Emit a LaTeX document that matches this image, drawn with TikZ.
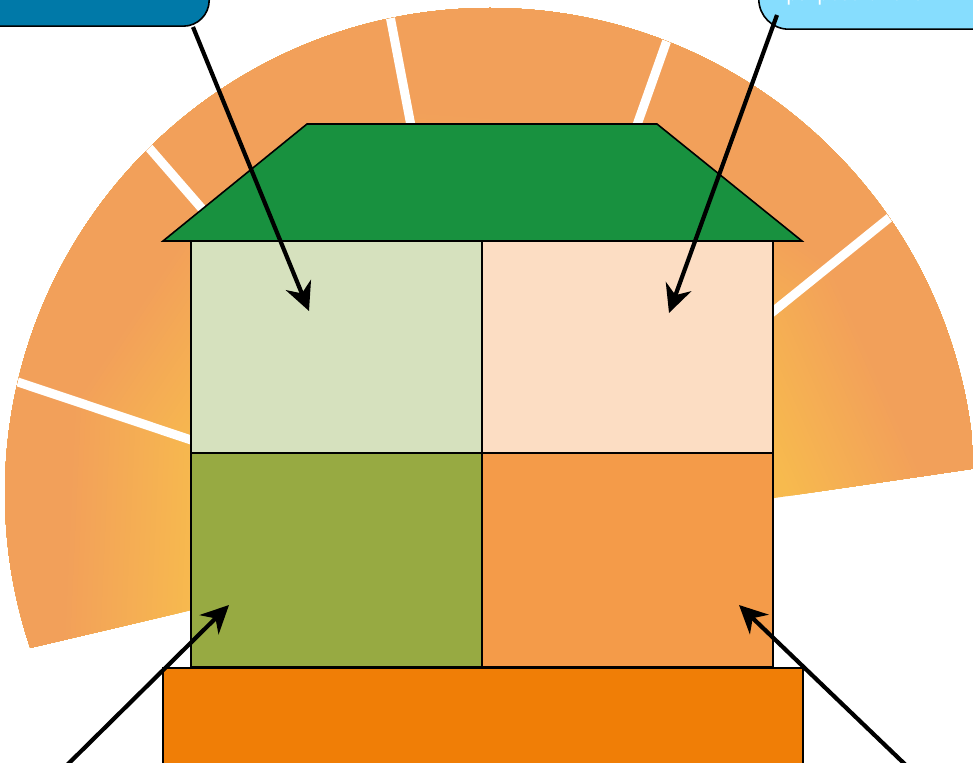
\documentclass[tikz,border=0pt]{standalone}
\usetikzlibrary{arrows.meta,calc}
\definecolor{fanout}{HTML}{F2A05A}
\definecolor{fanin}{HTML}{F7BA4E}
\definecolor{roofg}{HTML}{18913F}
\definecolor{rtl}{HTML}{D6E1BE}
\definecolor{rtr}{HTML}{FCDDC3}
\definecolor{rbl}{HTML}{97AA42}
\definecolor{rbr}{HTML}{F49B49}
\definecolor{found}{HTML}{F07E06}
\definecolor{calloutA}{HTML}{0079A8}
\definecolor{calloutB}{HTML}{86DDFE}
\tikzset{
  gap/.style={white, line width=9pt},
  room/.style={draw=black, line width=1.6pt, minimum width=291pt, inner sep=0pt, outer sep=0pt},
  callout/.style={draw=black, line width=1.6pt, minimum width=260pt, minimum height=70pt, inner sep=0pt},
  arr/.style={line width=4.2pt, -{Stealth[length=28pt,width=27pt,inset=9pt]}}
}
\newcommand{\fanwedge}[3]{%
  \begin{scope}
    \clip (G) -- ($(G)+(#1:1500pt)$) -- ($(G)+(#3:1500pt)$) -- ($(G)+(#2:1500pt)$) -- cycle;
    \fill[fanin] (G) circle (1100pt);
    \begin{scope}[shift={(G)}, rotate=#3]
      \foreach \k in {0,...,26} {
        \pgfmathsetmacro{\dd}{290+5*\k}
        \pgfmathsetmacro{\mm}{\k*100/26}
        \fill[fanout!\mm!fanin] (\dd,-900) rectangle (1200,900);
      }
    \end{scope}
  \end{scope}}
\begin{document}
\begin{tikzpicture}[x=1pt,y=-1pt]
\useasboundingbox (0,0) rectangle (973,762);
\fill[white] (0,0) rectangle (973,762);
\coordinate (O) at (490,493);
\coordinate (G) at (490,540);
% fan of six wedges
\begin{scope}
  \clip (O) circle (485pt);
  \fanwedge{193.2}{161.5}{177.35}
  \fanwedge{161.5}{131.0}{146.25}
  \fanwedge{131.0}{100.8}{115.9}
  \fanwedge{100.8}{70.5}{85.65}
  \fanwedge{70.5}{38.9}{54.7}
  \fanwedge{38.9}{8.4}{23.65}
  \foreach \a in {161.5,131.0,100.8,70.5,38.9}
    \draw[gap] (G) -- ($(G)+(\a:1500pt)$);
\end{scope}
% house
\draw[fill=roofg, line width=1.6pt, line join=miter] (163,241) -- (307,124) -- (657,124) -- (802,241) -- cycle;
\node[room, fill=rtl, minimum height=212pt] (r1) at (336.5,347) {};
\node[room, fill=rtr, minimum height=212pt] (r2) at (627.5,347) {};
\node[room, fill=rbl, minimum height=214pt] (r3) at (336.5,560) {};
\node[room, fill=rbr, minimum height=214pt] (r4) at (627.5,560) {};
\node[draw=black, line width=1.6pt, fill=found, minimum width=640pt, minimum height=120pt, inner sep=0pt, anchor=north west] (fd) at (162,667) {};
% callouts
\node[callout, fill=calloutA, rounded corners=26pt, anchor=south east] (ca) at (210,27) {};
\node[callout, fill=calloutB, rounded corners=30pt, anchor=south west] (cb) at (758,30) {};
\node[text=white, font=\sffamily\fontsize{24}{28}\selectfont, anchor=base west, inner sep=0pt] (cbt) at (786,1) {purpose of the};
% arrows
\coordinate (a1s) at (193,27);  \coordinate (a1e) at (309,311);
\coordinate (a2s) at (777,15);  \coordinate (a2e) at (669,313);
\coordinate (a3s) at (60,772);  \coordinate (a3e) at (229,605);
\coordinate (a4s) at (913,772); \coordinate (a4e) at (739,605);
\draw[arr] (a1s) -- (a1e);
\draw[arr] (a2s) -- (a2e);
\draw[arr] (a3s) -- (a3e);
\draw[arr] (a4s) -- (a4e);
\end{tikzpicture}
\end{document}
